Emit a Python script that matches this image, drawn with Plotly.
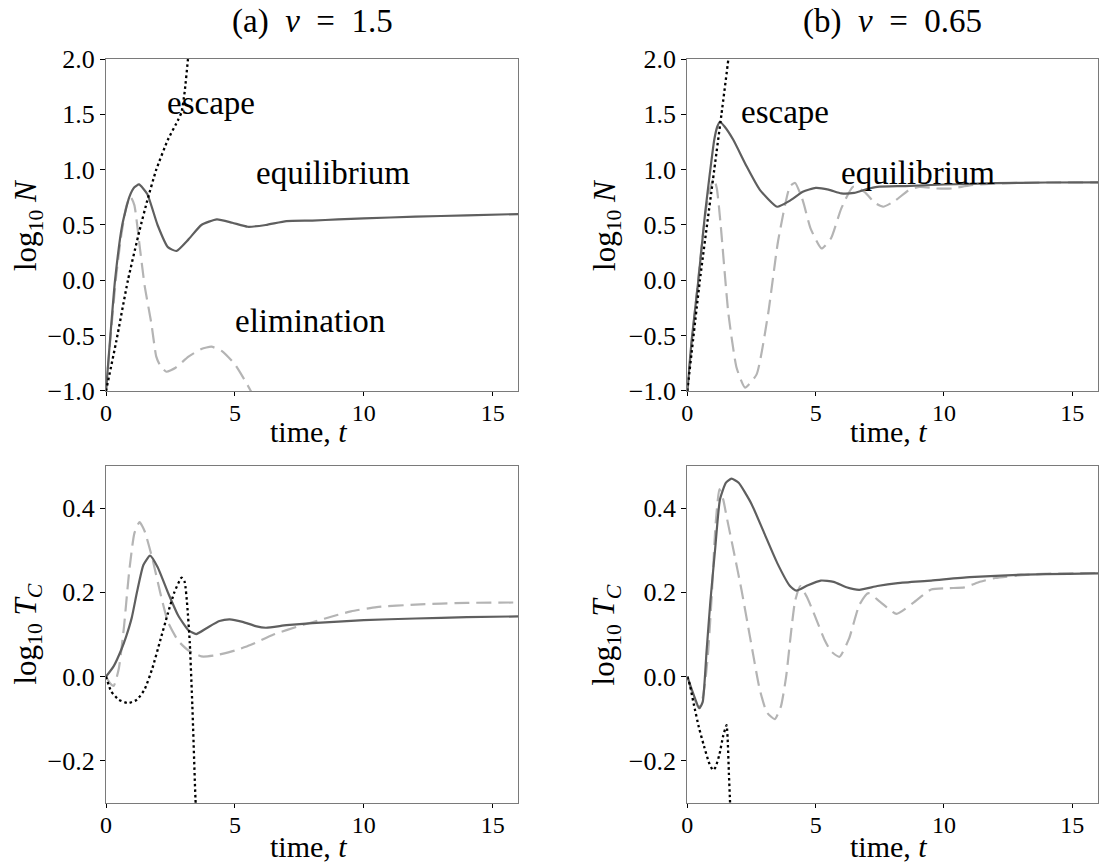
import plotly.graph_objects as go

# ---------------- data: log10 N, nu = 1.5 ----------------
t_eq_a = [0, 0.17, 0.35, 0.63, 0.9, 1.1, 1.28, 1.6, 2.0, 2.4, 2.73, 3.2, 3.7, 4.3, 4.9, 5.5,
          6.2, 7.0, 8.0, 9.0, 10.0, 12.0, 14.0, 16.0]
n_eq_a = [-1.0, -0.5, 0.0, 0.5, 0.75, 0.84, 0.867, 0.78, 0.5, 0.3, 0.265, 0.37, 0.5, 0.551,
          0.52, 0.484, 0.5, 0.535, 0.54, 0.55, 0.56, 0.575, 0.587, 0.599]

t_el_a = [0, 0.2, 0.4, 0.6, 0.8, 0.95, 1.1, 1.3, 1.5, 1.76, 1.95, 2.1, 2.34, 2.7, 3.2, 3.7, 4.09,
          4.5, 5.0, 5.5, 5.8]
n_el_a = [-1.0, -0.45, 0.05, 0.42, 0.68, 0.755, 0.68, 0.32, -0.05, -0.39, -0.69, -0.77, -0.826,
          -0.79, -0.69, -0.62, -0.6, -0.64, -0.76, -0.95, -1.08]

t_es_a = [0, 0.4, 0.85, 1.3, 1.6, 1.95, 2.4, 2.8, 2.93, 3.05, 3.18, 3.3]
n_es_a = [-1.0, -0.55, 0.0, 0.45, 0.72, 1.0, 1.27, 1.45, 1.52, 1.7, 2.0, 2.3]

# ---------------- data: log10 N, nu = 0.65 ----------------
t_eq_b = [0, 0.17, 0.43, 0.69, 0.88, 1.05, 1.17, 1.27, 1.45, 1.79, 2.31, 2.82, 3.5, 4.0, 4.5,
          5.0, 5.5, 6.0, 6.5, 7.0, 7.4, 8.5, 10.0, 12.0, 14.0, 16.0]
n_eq_b = [-1.0, -0.54, 0.0, 0.6, 0.97, 1.27, 1.39, 1.433, 1.39, 1.27, 1.03, 0.82, 0.665, 0.72,
          0.8, 0.835, 0.82, 0.785, 0.79, 0.825, 0.845, 0.852, 0.866, 0.878, 0.884, 0.885]

t_el_b = [0, 0.2, 0.4, 0.6, 0.8, 1.03, 1.15, 1.3, 1.6, 1.92, 2.25, 2.7, 3.15, 3.54, 4.0, 4.2,
          4.5, 4.8, 5.23, 5.6, 6.0, 6.46, 6.9, 7.3, 7.63, 8.1, 8.6, 9.05, 9.7, 10.3, 11.0, 12.0,
          14.0, 16.0]
n_el_b = [-1.0, -0.5, -0.05, 0.4, 0.75, 0.92, 0.83, 0.5, -0.3, -0.79, -0.97, -0.85, -0.3, 0.36,
          0.85, 0.88, 0.72, 0.47, 0.288, 0.38, 0.65, 0.845, 0.8, 0.7, 0.665, 0.72, 0.81, 0.845,
          0.83, 0.83, 0.858, 0.875, 0.884, 0.885]

t_es_b = [0, 0.49, 1.05, 1.33, 1.6, 1.7]
n_es_b = [-1.0, 0.0, 1.0, 1.5, 2.0, 2.2]

# ---------------- data: log10 T_C, nu = 1.5 ----------------
t_teq_a = [0, 0.3, 0.6, 0.78, 1.0, 1.2, 1.45, 1.71, 2.0, 2.4, 2.8, 3.2, 3.5, 3.9, 4.4, 4.8, 5.3,
           5.8, 6.2, 7.0, 8.0, 10.0, 12.0, 14.0, 16.0]
c_teq_a = [0.0, 0.025, 0.065, 0.095, 0.14, 0.2, 0.265, 0.287, 0.26, 0.2, 0.145, 0.11, 0.101,
           0.115, 0.132, 0.136, 0.13, 0.12, 0.116, 0.122, 0.127, 0.134, 0.138, 0.141, 0.143]

t_tel_a = [0, 0.15, 0.3, 0.5, 0.7, 0.9, 1.1, 1.3, 1.5, 1.8, 2.1, 2.4, 2.8, 3.2, 3.7, 4.2, 5.0,
           5.6, 6.5, 7.5, 8.5, 9.5, 10.5, 12.0, 14.0, 16.0]
c_tel_a = [0.0, -0.015, -0.022, 0.02, 0.12, 0.25, 0.34, 0.367, 0.345, 0.28, 0.2, 0.13, 0.085,
           0.062, 0.048, 0.05, 0.062, 0.075, 0.1, 0.12, 0.138, 0.155, 0.165, 0.171, 0.175, 0.176]

t_tes_a = [0, 0.2, 0.5, 0.85, 1.2, 1.5, 1.8, 2.1, 2.4, 2.65, 2.93, 3.05, 3.15, 3.25, 3.35, 3.47,
           3.52]
c_tes_a = [0.0, -0.035, -0.055, -0.063, -0.055, -0.03, 0.02, 0.085, 0.15, 0.2, 0.235, 0.225,
           0.17, 0.08, -0.07, -0.29, -0.35]

# ---------------- data: log10 T_C, nu = 0.65 ----------------
t_teq_b = [0, 0.2, 0.47, 0.6, 0.75, 0.9, 1.08, 1.27, 1.5, 1.72, 2.0, 2.5, 3.0, 3.5, 4.0, 4.25,
           4.7, 5.2, 5.7, 6.2, 6.7, 7.4, 8.2, 9.5, 11.0, 13.0, 16.0]
c_teq_b = [0.0, -0.035, -0.075, -0.06, 0.06, 0.18, 0.3, 0.42, 0.46, 0.47, 0.46, 0.41, 0.34, 0.27,
           0.215, 0.204, 0.217, 0.228, 0.225, 0.212, 0.206, 0.215, 0.222, 0.228, 0.236, 0.242,
           0.245]

t_tel_b = [0, 0.2, 0.45, 0.6, 0.72, 0.82, 0.95, 1.1, 1.25, 1.4, 1.53, 1.8, 2.11, 2.44, 2.82, 3.1,
           3.41, 3.65, 3.85, 4.05, 4.2, 4.4, 4.65, 4.9, 5.35, 5.6, 5.93, 6.3, 6.7, 7.05, 7.5, 8.15,
           8.8, 9.5, 10.2, 10.8, 11.4, 12.0, 13.5, 16.0]
c_tel_b = [0.0, -0.04, -0.075, -0.05, 0.0, 0.065, 0.19, 0.36, 0.445, 0.42, 0.38, 0.3, 0.206,
           0.095, -0.03, -0.085, -0.101, -0.07, 0.0, 0.11, 0.18, 0.215, 0.19, 0.155, 0.087, 0.06,
           0.047, 0.09, 0.17, 0.198, 0.178, 0.149, 0.175, 0.207, 0.21, 0.212, 0.225, 0.234, 0.243,
           0.246]

t_tes_b = [0, 0.1, 0.25, 0.45, 0.65, 0.85, 1.0, 1.1, 1.25, 1.4, 1.53, 1.58, 1.62, 1.66, 1.68]
c_tes_b = [0.0, -0.02, -0.065, -0.12, -0.165, -0.205, -0.222, -0.215, -0.185, -0.14, -0.115,
           -0.16, -0.23, -0.29, -0.33]

panel_titles = ["(a)\u2002<i>ν</i>\u2002=\u20021.5", "(b)\u2002<i>ν</i>\u2002=\u20020.65"]
x_title = "time, <i>t</i>"
n_title = "log<sub>10</sub> <i>N</i>"
tc_title = "log<sub>10</sub> <i>T</i><sub><i>C</i></sub>"
n_ticks = [-1.0, -0.5, 0.0, 0.5, 1.0, 1.5, 2.0]
tc_ticks = [-0.2, 0.0, 0.2, 0.4]
t_ticks = [0, 5, 10, 15]

# ---------------- styling ----------------
FONT = "Liberation Serif"
EQ = dict(color="#5f5f5f", width=2.2)
EL = dict(color="#b4b4b4", width=2.2, dash="15px,7px")
ES = dict(color="#000000", width=2.3, dash="2.5px,3px")

fig = go.Figure()

def add(t, y, line, xa, ya):
    fig.add_trace(go.Scatter(x=t, y=y, mode="lines", line=dict(shape="spline", smoothing=0.5, **line),
                             xaxis=xa, yaxis=ya, showlegend=False, hoverinfo="skip"))

# top-left
add(t_el_a, n_el_a, EL, "x", "y")
add(t_eq_a, n_eq_a, EQ, "x", "y")
add(t_es_a, n_es_a, ES, "x", "y")
# top-right
add(t_el_b, n_el_b, EL, "x2", "y2")
add(t_eq_b, n_eq_b, EQ, "x2", "y2")
add(t_es_b, n_es_b, ES, "x2", "y2")
# bottom-left
add(t_tel_a, c_tel_a, EL, "x3", "y3")
add(t_teq_a, c_teq_a, EQ, "x3", "y3")
add(t_tes_a, c_tes_a, ES, "x3", "y3")
# bottom-right
add(t_tel_b, c_tel_b, EL, "x4", "y4")
add(t_teq_b, c_teq_b, EQ, "x4", "y4")
add(t_tes_b, c_tes_b, ES, "x4", "y4")

L_DOM = [0.0, 0.4158]
R_DOM = [0.586, 1.0]
T_DOM = [0.5538, 1.0]
B_DOM = [0.0, 0.453]

Y_TICK_FONT = dict(family=FONT, size=26, color="#000")
X_TICK_FONT = dict(family=FONT, size=24, color="#000")

def xax(domain, anchor):
    return dict(domain=domain, anchor=anchor, range=[0, 16], tickvals=t_ticks,
                showline=True, linecolor="#7a7a7a", linewidth=1.2, mirror=True,
                ticks="outside", ticklen=4, tickcolor="#000000", tickwidth=1,
                ticklabelstandoff=-4,
                showgrid=False, zeroline=False, tickfont=X_TICK_FONT)

def yax(domain, anchor, rng, vals):
    return dict(domain=domain, anchor=anchor, range=rng, tickvals=vals, tickformat=".1f",
                showline=True, linecolor="#7a7a7a", linewidth=1.2, mirror=True,
                ticks="outside", ticklen=5, tickcolor="#000000", tickwidth=1,
                showgrid=False, zeroline=False, tickfont=Y_TICK_FONT)

fig.update_layout(
    width=1099, height=864,
    margin=dict(l=106, r=1, t=59, b=61),
    paper_bgcolor="white", plot_bgcolor="white",
    font=dict(family=FONT, color="#000"),
    xaxis=xax(L_DOM, "y"), yaxis=yax(T_DOM, "x", [-1, 2], n_ticks),
    xaxis2=xax(R_DOM, "y2"), yaxis2=yax(T_DOM, "x2", [-1, 2], n_ticks),
    xaxis3=xax(L_DOM, "y3"), yaxis3=yax(B_DOM, "x3", [-0.3, 0.5], tc_ticks),
    xaxis4=xax(R_DOM, "y4"), yaxis4=yax(B_DOM, "x4", [-0.3, 0.5], tc_ticks),
)

def paper_note(text, x, y, size, angle=0):
    fig.add_annotation(text=text, xref="paper", yref="paper", x=x, y=y, xanchor="center",
                       yanchor="middle", showarrow=False, textangle=angle,
                       font=dict(family=FONT, size=size, color="#000"))

# panel titles
for txt, xc in zip(panel_titles, [sum(L_DOM) / 2, sum(R_DOM) / 2]):
    paper_note(txt, xc, 1.05, 33)

# axis titles
for xc in [sum(L_DOM) / 2, sum(R_DOM) / 2]:
    paper_note(x_title, xc - 0.004, 0.4987, 30)
    paper_note(x_title, xc - 0.004, -0.0578, 30)
for xc in [-0.0786, 0.505]:
    paper_note(n_title, xc, sum(T_DOM) / 2, 31, angle=-90)
    paper_note(tc_title, xc, sum(B_DOM) / 2, 31, angle=-90)

# regime labels
labels = [("escape", 4.07, 1.6, "x", "y"), ("equilibrium", 8.8, 0.97, "x", "y"),
          ("elimination", 7.9, -0.37, "x", "y"), ("escape", 3.8, 1.52, "x2", "y2"),
          ("equilibrium", 8.98, 0.97, "x2", "y2")]
for txt, xv, yv, xr, yr in labels:
    fig.add_annotation(text=txt, x=xv, y=yv, xref=xr, yref=yr, showarrow=False,
                       xanchor="center", yanchor="middle",
                       font=dict(family=FONT, size=33, color="#000"))

fig.write_html("out.html")
